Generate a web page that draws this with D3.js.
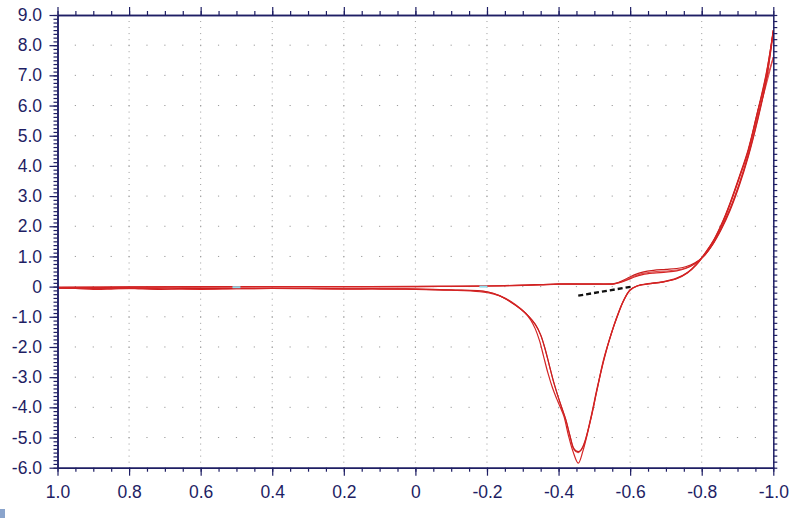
<!DOCTYPE html>
<html>
<head>
<meta charset="utf-8">
<script src="https://cdn.jsdelivr.net/npm/d3@7"></script>
<style>
  html, body { margin: 0; padding: 0; background: #fff; }
  svg { display: block; }
  .tick text { font-family: "Liberation Sans", Arial, sans-serif; }
</style>
</head>
<body>
<svg id="chart" width="800" height="518"></svg>
<script>
// Axis ticks (potential in V, current in uA)
const potentialTicks = [1.0, 0.8, 0.6, 0.4, 0.2, 0, -0.2, -0.4, -0.6, -0.8, -1.0];
const currentTicks = [9, 8, 7, 6, 5, 4, 3, 2, 1, 0, -1, -2, -3, -4, -5, -6];

// Cycle 1 : deepest reduction peak
const cycle1Forward = [
  [1.0, -0.05], [0.95, -0.06], [0.9, -0.09], [0.85, -0.08], [0.8, -0.06], [0.7, -0.07],
  [0.6, -0.09], [0.5, -0.07], [0.4, -0.06], [0.3, -0.07], [0.2, -0.08], [0.1, -0.08],
  [0.0, -0.09], [-0.1, -0.12], [-0.18, -0.17], [-0.22, -0.25], [-0.25, -0.38], [-0.28, -0.6],
  [-0.305, -0.85], [-0.322, -1.1], [-0.335, -1.4], [-0.347, -1.8], [-0.358, -2.3], [-0.37, -2.85],
  [-0.383, -3.35], [-0.395, -3.72], [-0.405, -4.0], [-0.415, -4.3], [-0.428, -4.95], [-0.44, -5.45],
  [-0.455, -5.85], [-0.468, -5.45], [-0.488, -4.5], [-0.507, -3.45], [-0.525, -2.45], [-0.545, -1.65],
  [-0.563, -1.0], [-0.58, -0.5], [-0.6, -0.12], [-0.62, 0.02], [-0.65, 0.09], [-0.69, 0.15],
  [-0.73, 0.26], [-0.76, 0.45], [-0.785, 0.72], [-0.81, 1.1], [-0.835, 1.55], [-0.86, 2.15],
  [-0.88, 2.75], [-0.905, 3.6], [-0.93, 4.5], [-0.955, 5.7], [-0.98, 7.0], [-1.0, 8.5]
];
const cycle1Reverse = [
  [-1.0, 8.5], [-0.98, 6.85], [-0.955, 5.5], [-0.93, 4.35], [-0.905, 3.4], [-0.88, 2.6],
  [-0.855, 1.95], [-0.83, 1.4], [-0.805, 1.0], [-0.78, 0.75], [-0.755, 0.6], [-0.73, 0.52],
  [-0.7, 0.48], [-0.665, 0.45], [-0.635, 0.4], [-0.61, 0.31], [-0.59, 0.21], [-0.57, 0.13],
  [-0.555, 0.09], [-0.5, 0.08], [-0.45, 0.08], [-0.4, 0.08], [-0.35, 0.06], [-0.3, 0.04],
  [-0.2, 0.02], [-0.1, 0.01], [0.0, 0.0], [0.2, 0.0], [0.4, 0.0], [0.6, -0.01], [0.8, -0.02], [1.0, -0.03]
];

// Cycle 2 : shallower peak, slightly later onset
const cycle2Forward = [
  [1.0, -0.04], [0.9, -0.05], [0.8, -0.05], [0.72, -0.09], [0.65, -0.06], [0.55, -0.06],
  [0.45, -0.06], [0.3, -0.06], [0.2, -0.07], [0.1, -0.07], [0.0, -0.08], [-0.1, -0.11],
  [-0.2, -0.17], [-0.235, -0.3], [-0.265, -0.5], [-0.295, -0.75], [-0.318, -1.0], [-0.335, -1.25],
  [-0.35, -1.6], [-0.362, -2.05], [-0.374, -2.6], [-0.386, -3.15], [-0.398, -3.62], [-0.408, -3.98],
  [-0.42, -4.4], [-0.432, -4.95], [-0.442, -5.35], [-0.45, -5.45], [-0.46, -5.45], [-0.472, -5.2],
  [-0.49, -4.35], [-0.508, -3.35], [-0.527, -2.4], [-0.546, -1.6], [-0.565, -0.95], [-0.582, -0.45],
  [-0.6, -0.1], [-0.62, 0.03], [-0.65, 0.1], [-0.69, 0.16], [-0.73, 0.28], [-0.76, 0.47],
  [-0.785, 0.74], [-0.81, 1.12], [-0.835, 1.58], [-0.86, 2.2], [-0.88, 2.8], [-0.905, 3.65],
  [-0.93, 4.55], [-0.955, 5.75], [-0.98, 7.05], [-1.0, 8.45]
];
const cycle2Reverse = [
  [-1.0, 8.45], [-0.98, 6.8], [-0.955, 5.45], [-0.93, 4.3], [-0.905, 3.35], [-0.88, 2.55],
  [-0.855, 1.9], [-0.83, 1.38], [-0.805, 1.0], [-0.78, 0.78], [-0.755, 0.66], [-0.73, 0.6],
  [-0.7, 0.57], [-0.665, 0.54], [-0.635, 0.48], [-0.61, 0.38], [-0.59, 0.26], [-0.57, 0.15],
  [-0.555, 0.1], [-0.5, 0.09], [-0.45, 0.09], [-0.4, 0.09], [-0.35, 0.07], [-0.3, 0.05],
  [-0.2, 0.02], [-0.1, 0.01], [0.0, 0.01], [0.2, 0.0], [0.4, 0.0], [0.6, 0.0], [0.8, -0.01], [1.0, -0.02]
];

// Cycle 3 : lower vertex current
const cycle3Forward = [
  [1.0, -0.05], [0.9, -0.06], [0.78, -0.07], [0.62, -0.08], [0.5, -0.07], [0.35, -0.06],
  [0.2, -0.07], [0.0, -0.08], [-0.1, -0.11], [-0.2, -0.17], [-0.235, -0.3], [-0.265, -0.5],
  [-0.295, -0.75], [-0.318, -1.0], [-0.335, -1.25], [-0.35, -1.6], [-0.362, -2.05], [-0.374, -2.6],
  [-0.386, -3.15], [-0.398, -3.62], [-0.408, -3.98], [-0.42, -4.4], [-0.432, -4.95], [-0.443, -5.4],
  [-0.455, -5.5], [-0.466, -5.35], [-0.49, -4.4], [-0.508, -3.4], [-0.527, -2.42], [-0.546, -1.62],
  [-0.565, -0.97], [-0.582, -0.47], [-0.6, -0.11], [-0.62, 0.02], [-0.65, 0.09], [-0.69, 0.15],
  [-0.73, 0.27], [-0.76, 0.46], [-0.785, 0.73], [-0.81, 1.11], [-0.835, 1.56], [-0.86, 2.18],
  [-0.88, 2.78], [-0.905, 3.62], [-0.93, 4.5], [-0.955, 5.75], [-0.975, 6.6], [-1.0, 7.6]
];
const cycle3Reverse = [
  [-1.0, 7.6], [-0.975, 6.45], [-0.955, 5.6], [-0.93, 4.4], [-0.905, 3.42], [-0.88, 2.6],
  [-0.855, 1.95], [-0.83, 1.4], [-0.805, 1.0], [-0.78, 0.76], [-0.755, 0.62], [-0.73, 0.55],
  [-0.7, 0.52], [-0.665, 0.49], [-0.635, 0.44], [-0.61, 0.34], [-0.59, 0.23], [-0.57, 0.14],
  [-0.555, 0.09], [-0.5, 0.08], [-0.4, 0.08], [-0.3, 0.04], [-0.2, 0.02], [0.0, 0.0],
  [0.4, 0.0], [0.8, -0.02], [1.0, -0.03]
];

// Peak baseline drawn by the software
const peakBaseline = [[-0.455, -0.3], [-0.605, 0.0]];
// Small cursor marks on the zero line
const cursorMarks = [[0.5, -0.02], [-0.19, 0.0]];

const svg = d3.select("#chart");
const width = 800, height = 518;
const margin = { top: 15, right: 26.7, bottom: 50.3, left: 57.5 };
const plotW = width - margin.left - margin.right;
const plotH = height - margin.top - margin.bottom;
const navy = "#1e1e64";

svg.append("rect").attr("width", width).attr("height", height).attr("fill", "#fff");

const g = svg.append("g").attr("transform", `translate(${ margin.left }, ${ margin.top })`);

const x = d3.scaleLinear().domain([1.0, -1.0]).range([0, plotW]);
const y = d3.scaleLinear().domain([-6, 9]).range([plotH, 0]);

// Dotted grid
const minorX = d3.range(0, 41).map(i => 1.0 - i * 0.05);
const periodX = Math.abs(x(0.95) - x(1.0));
const periodY = Math.abs(y(0.2) - y(0));

g.append("g").selectAll("line")
  .data(potentialTicks.slice(1, -1))
  .enter().append("line")
  .attr("x1", d => x(d)).attr("x2", d => x(d))
  .attr("y1", 0).attr("y2", plotH)
  .attr("stroke", "#9a9a9a").attr("stroke-width", 1)
  .attr("stroke-dasharray", `1,${ periodY - 1 }`);

g.append("g").selectAll("line")
  .data(currentTicks.slice(1, -1))
  .enter().append("line")
  .attr("x1", 0).attr("x2", plotW)
  .attr("y1", d => y(d)).attr("y2", d => y(d))
  .attr("stroke", "#9a9a9a").attr("stroke-width", 1)
  .attr("stroke-dasharray", `1.2,${ periodX - 1.2 }`)
  .attr("stroke-dashoffset", 0.6);

// Curves
const line = d3.line()
  .x(d => x(d[0]))
  .y(d => y(d[1]))
  .curve(d3.curveCatmullRom.alpha(0.5));

const traces = [
  { data: cycle3Forward, color: "#e04848", w: 1.1 },
  { data: cycle3Reverse, color: "#e04848", w: 1.1 },
  { data: cycle2Forward, color: "#c81e1e", w: 1.2 },
  { data: cycle2Reverse, color: "#c81e1e", w: 1.2 },
  { data: cycle1Forward, color: "#d42424", w: 1.2 },
  { data: cycle1Reverse, color: "#d42424", w: 1.2 }
];

g.append("g").selectAll("path")
  .data(traces)
  .enter().append("path")
  .attr("d", d => line(d.data))
  .attr("fill", "none")
  .attr("stroke", d => d.color)
  .attr("stroke-width", d => d.w)
  .attr("stroke-linejoin", "round");

// Cursor marks
g.append("g").selectAll("line")
  .data(cursorMarks)
  .enter().append("line")
  .attr("x1", d => x(d[0]) - 4).attr("x2", d => x(d[0]) + 4)
  .attr("y1", d => y(d[1])).attr("y2", d => y(d[1]))
  .attr("stroke", "#8fdcec").attr("stroke-width", 2);

// Peak baseline
g.append("path")
  .attr("d", d3.line().x(d => x(d[0])).y(d => y(d[1]))(peakBaseline))
  .attr("fill", "none")
  .attr("stroke", "#111")
  .attr("stroke-width", 2.4)
  .attr("stroke-dasharray", "5,3");

// Axes
const fmt = v => v === 0 ? "0" : v.toFixed(1);
const minorYLeft = d3.range(0, 121).map(i => -6 + i * 0.125);
const minorYRight = d3.range(0, 76).map(i => -6 + i * 0.2);

function styleAxis(sel)
{
  sel.select(".domain").attr("stroke", navy).attr("stroke-width", 1.5);
  sel.selectAll(".tick line").attr("stroke", navy).attr("stroke-width", 1.2);
  sel.selectAll(".tick text").attr("fill", navy).attr("font-size", "17.5px");
}

// bottom
g.append("g").attr("transform", `translate(0, ${ plotH })`)
  .call(d3.axisBottom(x).tickValues(minorX).tickSize(4).tickSizeOuter(0).tickFormat(""))
  .call(styleAxis);
g.append("g").attr("transform", `translate(0, ${ plotH })`)
  .call(d3.axisBottom(x).tickValues(potentialTicks).tickSize(8).tickSizeOuter(0).tickPadding(10).tickFormat(fmt))
  .call(styleAxis);

// top
g.append("g")
  .call(d3.axisTop(x).tickValues(minorX).tickSize(4).tickSizeOuter(0).tickFormat(""))
  .call(styleAxis);
g.append("g")
  .call(d3.axisTop(x).tickValues(potentialTicks).tickSize(8).tickSizeOuter(0).tickFormat(""))
  .call(styleAxis);

// left
g.append("g")
  .call(d3.axisLeft(y).tickValues(minorYLeft).tickSize(4).tickSizeOuter(0).tickFormat(""))
  .call(styleAxis);
g.append("g")
  .call(d3.axisLeft(y).tickValues(currentTicks).tickSize(8).tickSizeOuter(0).tickPadding(7.5).tickFormat(fmt))
  .call(styleAxis);

// right
g.append("g").attr("transform", `translate(${ plotW }, 0)`)
  .call(d3.axisRight(y).tickValues(minorYRight).tickSize(4).tickSizeOuter(0).tickFormat(""))
  .call(styleAxis);

// small window-corner mark bottom left
svg.append("rect")
  .attr("x", 0).attr("y", 509).attr("width", 5).attr("height", 9)
  .attr("fill", "#8aa4cc");
</script>
</body>
</html>
